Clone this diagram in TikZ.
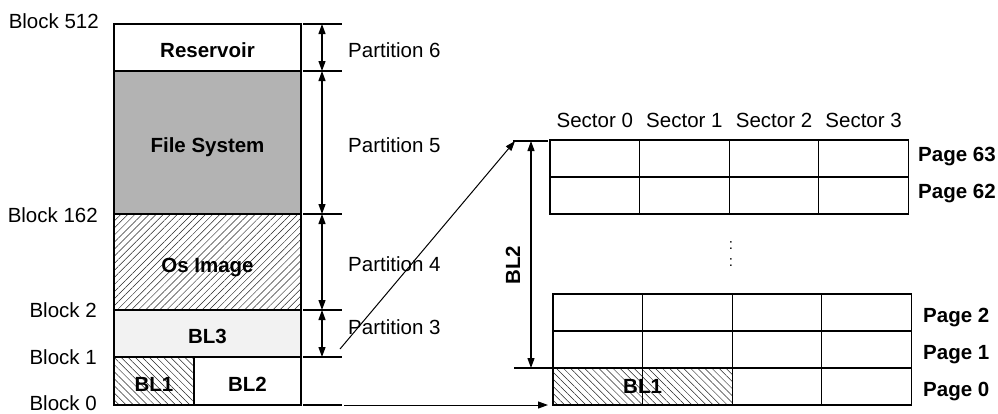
\documentclass[tikz,border=0pt]{standalone}
\usepackage{fontspec}
\setmainfont{Liberation Sans}
\usetikzlibrary{arrows.meta,positioning,patterns.meta}
\definecolor{FsGray}{HTML}{B3B3B3}
\definecolor{BlGray}{HTML}{F2F2F2}

\begin{document}
\fontsize{20.5}{24}\selectfont
\begin{tikzpicture}[x=1pt,y=-1pt,
		blk/.style={draw,line width=1.2pt,minimum width=187pt,inner sep=0pt,outer sep=0pt,font=\bfseries,text height=20.5pt,text depth=0pt},
		cell/.style={draw,line width=1.2pt,minimum width=89.6pt,minimum height=37pt,inner sep=0pt,outer sep=0pt},
		hatch/.style={pattern={Lines[angle=#1,distance=5pt,line width=0.5pt]},pattern color=black!85},
		tick/.style={line width=1.1pt},
		dim/.style={{Triangle[length=10pt,width=7pt]}-{Triangle[length=10pt,width=7pt]},line width=1.2pt},
		arr/.style={-{Triangle[length=10pt,width=7pt]},line width=1pt},
		blab/.style={anchor=base east,inner sep=0pt},
		plab/.style={anchor=base west,inner sep=0pt},
		pg/.style={anchor=base west,inner sep=0pt,font=\bfseries}
	]
	\useasboundingbox (0,0) rectangle (998,413);
	% memory blocks
	\node[blk,minimum height=47pt] (res) at (207.5,47.5) {Reservoir};
	\node[blk,minimum height=143pt,fill=FsGray,below=0pt of res] (fs) {File System};
	\node[blk,minimum height=96pt,hatch=45,below=0pt of fs] (os) {Os Image};
	\node[blk,minimum height=47pt,fill=BlGray,below=0pt of os] (bl3) {BL3};
	\node[blk,minimum width=80pt,minimum height=48pt,hatch=-45,anchor=north west] (bl1) at (bl3.south west) {BL1};
	\node[blk,minimum width=107pt,minimum height=48pt,anchor=north west] (bl2) at (bl1.north east) {BL2};
	% block numbers
	\node[blab] (b512) at (99,28) {Block 512};
	\node[blab] (b162) at (98,222) {Block 162};
	\node[blab] (b2) at (97,317) {Block 2};
	\node[blab] (b1) at (97,364) {Block 1};
	\node[blab] (b0) at (97,410) {Block 0};
	% partitions
	\foreach \n/\y in {a/24,b/71,c/214,d/310,e/357,f/405}{
		\coordinate (lv\n) at (322,\y);
		\draw[tick] ([xshift=-19pt]lv\n) -- ([xshift=20pt]lv\n);
	}
	\draw[dim] (lva) -- (lvb);
	\draw[dim] (lvb) -- (lvc);
	\draw[dim] (lvc) -- (lvd);
	\draw[dim] (lvd) -- (lve);
	\node[plab] (p6) at (348,57) {Partition 6};
	\node[plab] (p5) at (348,152) {Partition 5};
	\node[plab] (p4) at (348,271) {Partition 4};
	\node[plab] (p3) at (348,334) {Partition 3};
	% pages and sectors
	\foreach \r/\y in {63/158.5,62/195.5}
		\foreach \c in {0,...,3}
			\node[cell] (c\r-\c) at ({594.8+89.6*\c},\y) {};
	\foreach \r/\y in {2/312.5,1/349.5,0/386.5}
		\foreach \c in {0,...,3}
			\node[cell] (c\r-\c) at ({597.8+89.6*\c},\y) {};
	\node[cell,hatch=-45] at (c0-0) {};
	\node[cell,hatch=-45] at (c0-1) {};
	\node[font=\bfseries] (bl1t) at (c0-0.east) {BL1};
	\foreach \c in {0,...,3}
		\node[anchor=base,inner sep=0pt] (s\c) at (c63-\c |- 0,127) {Sector \c};
	\node[pg] (pg63) at (918,161) {Page 63};
	\node[pg] (pg62) at (918,198) {Page 62};
	\node[pg] (pg2) at (923,322) {Page 2};
	\node[pg] (pg1) at (923,359) {Page 1};
	\node[pg] (pg0) at (923,396) {Page 0};
	\node[align=center,inner sep=0pt,font=\fontsize{15}{17}\selectfont] (vdots) at (731,254) {:\\:};
	% BL2 span
	\coordinate (bt) at (531,141);
	\coordinate (bb) at (531,368);
	\draw[tick] ([xshift=-18pt]bt) -- ([xshift=17pt]bt);
	\draw[tick] ([xshift=-17pt]bb) -- (c0-0.north west);
	\draw[dim] (bt) -- (bb);
	\node[rotate=90,font=\bfseries] (bl2lbl) at (513,265) {BL2};
	% mapping arrows
	\coordinate (ds) at (340,349);
	\draw[arr] (ds) -- ([xshift=-16pt]bt);
	\coordinate (bs) at (344,405);
	\draw[arr] (bs) -- ([xshift=-5pt]c0-0.south west);
\end{tikzpicture}
\end{document}
